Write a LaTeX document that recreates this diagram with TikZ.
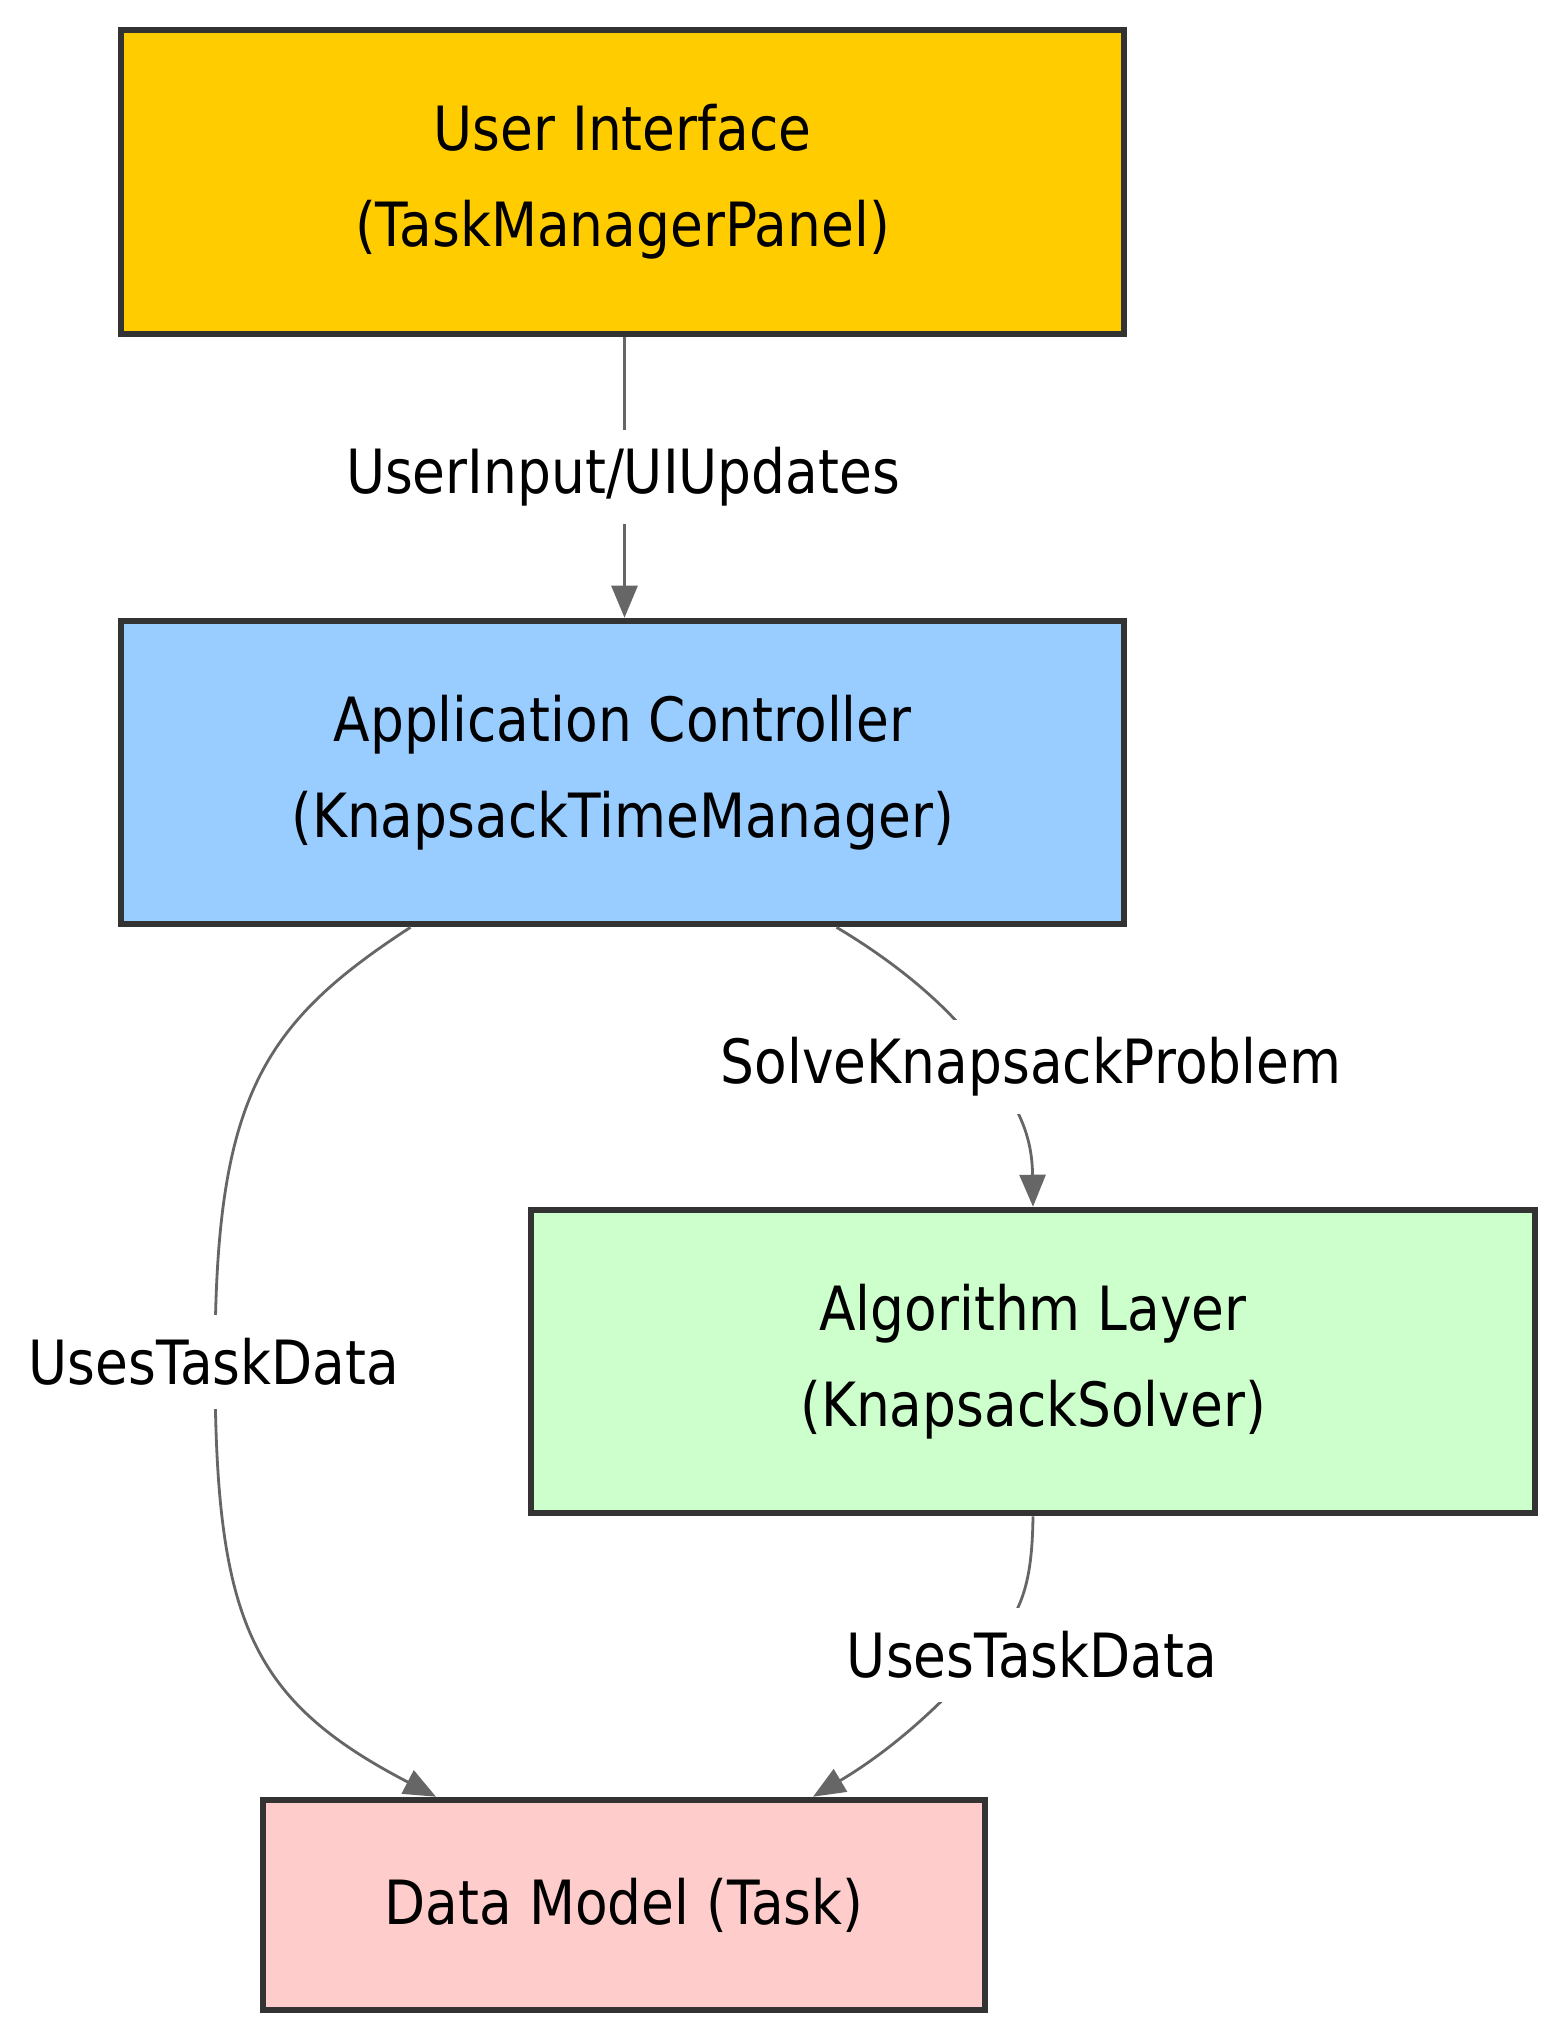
\documentclass[tikz,border=0pt]{standalone}
\usepackage{fontspec}
\setmainfont{DejaVu Sans}[FakeStretch=0.875]
\usetikzlibrary{arrows.meta}
\definecolor{uifill}{HTML}{FFCC00}
\definecolor{appfill}{HTML}{99CCFF}
\definecolor{algfill}{HTML}{CCFFCC}
\definecolor{datafill}{HTML}{FFCCCC}
\definecolor{boxline}{HTML}{333333}
\definecolor{edgeline}{HTML}{666666}
\begin{document}
\begin{tikzpicture}[x=0.5pt,y=-0.5pt,
  box/.style={draw=boxline,line width=3.3pt,rectangle,align=center,
    font=\fontsize{30.5}{48}\selectfont,inner sep=0pt},
  lbl/.style={fill=white,inner xsep=3pt,inner ysep=0pt,minimum height=47pt,
    font=\fontsize{30.5}{36}\selectfont},
  conn/.style={draw=edgeline,line width=1.4pt,
    -{Triangle[length=16pt,width=13pt]}}]
\useasboundingbox[fill=white] (0,0) rectangle (1564,2040);

\node[box,fill=uifill,minimum width=501.5pt,minimum height=152pt] (ui) at (622.5,182)
  {User Interface\\(TaskManagerPanel)};
\node[box,fill=appfill,minimum width=501.5pt,minimum height=151.5pt] (app) at (622.5,772.5)
  {Application Controller\\(KnapsackTimeManager)};
\node[box,fill=algfill,minimum width=502pt,minimum height=151.5pt] (alg) at (1033,1361.5)
  {Algorithm Layer\\(KnapsackSolver)};
\node[box,fill=datafill,minimum width=361pt,minimum height=105pt] (data) at (624,1905)
  {Data Model (Task)};

% edges
\draw[conn] ([xshift=1pt]ui.south) -- ([xshift=1pt]app.north);
\draw[conn] ([xshift=-106pt]app.south) .. controls (260,1025) and (215,1100) .. (215,1362)
  .. controls (215,1620) and (250,1700) .. ([xshift=-94pt]data.north);
\draw[conn] ([xshift=107pt]app.south) .. controls (900,965) and (960,1015) .. (990,1065)
  .. controls (1015,1105) and (1032,1130) .. (alg.north);
\draw[conn] (alg.south) .. controls (1032,1590) and (1020,1615) .. (985,1655)
  .. controls (950,1695) and (900,1745) .. ([xshift=94.5pt]data.north);

% labels
\node[lbl] (l1) at (623,477) {UserInput/UIUpdates};
\node[lbl] (l2) at (214,1362) {UsesTaskData};
\node[lbl] (l3) at (1031,1067) {SolveKnapsackProblem};
\node[lbl] (l4) at (1032,1655) {UsesTaskData};
\end{tikzpicture}
\end{document}
